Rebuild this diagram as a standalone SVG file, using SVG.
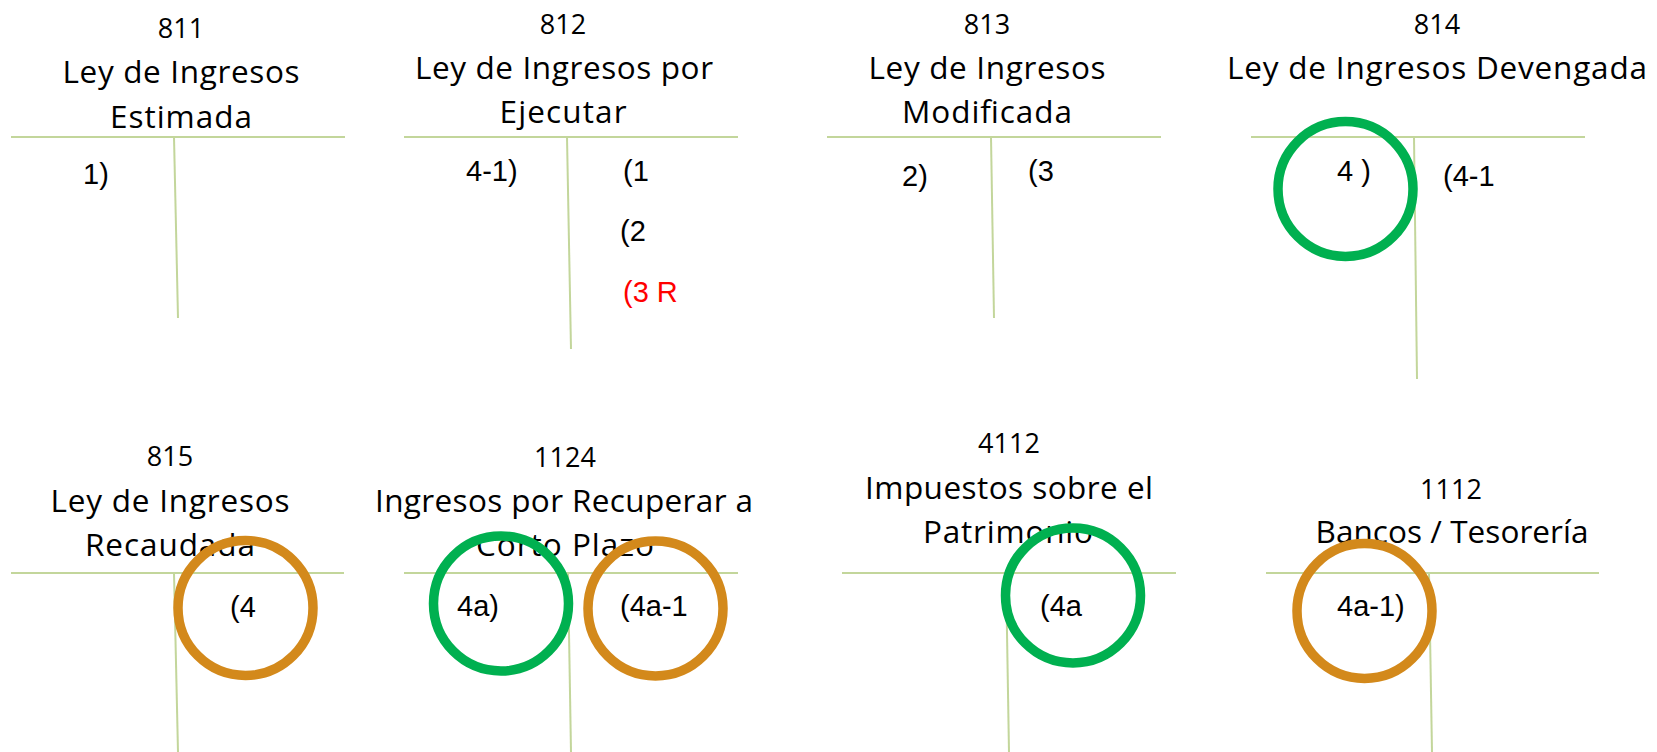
<svg xmlns="http://www.w3.org/2000/svg" width="1657" height="752" viewBox="0 0 1657 752">
<style>
.t{font-family:"Open Sans","Liberation Sans",sans-serif;font-size:31.5px;fill:#000;text-anchor:middle}
.n{font-family:"Open Sans","Liberation Sans",sans-serif;font-size:27px;fill:#000;text-anchor:middle}
.e{font-family:"Liberation Sans",Arial,sans-serif;font-size:29px;fill:#000}
.r{fill:#FF0000}
.ln{stroke:#C3D69B;stroke-width:2;fill:none}
.cg{stroke:#00B050;stroke-width:9.5;fill:none}
.co{stroke:#D3891B;stroke-width:9.5;fill:none}
</style>
<rect width="1657" height="752" fill="#fff"/>

<g id="acc811">
<text class="n" x="181" y="38">811</text>
<text class="t" x="181" y="83" textLength="237">Ley de Ingresos</text>
<text class="t" x="181" y="128" textLength="142">Estimada</text>
<line class="ln" x1="11" y1="137" x2="345" y2="137"/>
<line class="ln" x1="174" y1="137" x2="178" y2="318"/>
<text class="e" x="83" y="184">1)</text>
</g>

<g id="acc812">
<text class="n" x="563" y="34">812</text>
<text class="t" x="564" y="79" textLength="298">Ley de Ingresos por</text>
<text class="t" x="563" y="123" textLength="127">Ejecutar</text>
<line class="ln" x1="404" y1="137" x2="738" y2="137"/>
<line class="ln" x1="567" y1="137" x2="571" y2="349"/>
<text class="e" x="466" y="181">4-1)</text>
<text class="e" x="623" y="181">(1</text>
<text class="e" x="620" y="241">(2</text>
<text class="e r" x="623" y="302">(3 R</text>
</g>

<g id="acc813">
<text class="n" x="987" y="34">813</text>
<text class="t" x="987" y="79" textLength="237">Ley de Ingresos</text>
<text class="t" x="987" y="123" textLength="170">Modificada</text>
<line class="ln" x1="827" y1="137" x2="1161" y2="137"/>
<line class="ln" x1="991" y1="137" x2="994" y2="318"/>
<text class="e" x="902" y="186">2)</text>
<text class="e" x="1028" y="181">(3</text>
</g>

<g id="acc814">
<text class="n" x="1437" y="34">814</text>
<text class="t" x="1437" y="79" textLength="420">Ley de Ingresos Devengada</text>
<line class="ln" x1="1251" y1="137" x2="1585" y2="137"/>
<line class="ln" x1="1414" y1="137" x2="1417" y2="379"/>
<text class="e" x="1337" y="181">4 )</text>
<text class="e" x="1443" y="186">(4-1</text>
<circle class="cg" cx="1345.5" cy="189" r="67.5"/>
</g>

<g id="acc815">
<text class="n" x="170" y="466">815</text>
<text class="t" x="170" y="512" textLength="239">Ley de Ingresos</text>
<text class="t" x="170" y="556" textLength="170">Recaudada</text>
<line class="ln" x1="11" y1="573" x2="344" y2="573"/>
<line class="ln" x1="174" y1="573" x2="178" y2="752"/>
<text class="e" x="230" y="617">(4</text>
<circle class="co" cx="245.5" cy="608" r="67.5"/>
</g>

<g id="acc1124">
<text class="n" x="565" y="467">1124</text>
<text class="t" x="564" y="512" textLength="378">Ingresos por Recuperar a</text>
<text class="t" x="565" y="556" textLength="178">Corto Plazo</text>
<line class="ln" x1="404" y1="573" x2="738" y2="573"/>
<line class="ln" x1="568" y1="573" x2="571" y2="752"/>
<text class="e" x="457" y="616">4a)</text>
<text class="e" x="620" y="616">(4a-1</text>
<circle class="cg" cx="501" cy="603.5" r="67.5"/>
<circle class="co" cx="655.5" cy="608.5" r="67.5"/>
</g>

<g id="acc4112">
<text class="n" x="1009" y="453">4112</text>
<text class="t" x="1009" y="499" textLength="288">Impuestos sobre el</text>
<text class="t" x="1008" y="543" textLength="170">Patrimonio</text>
<line class="ln" x1="842" y1="573" x2="1176" y2="573"/>
<line class="ln" x1="1006" y1="573" x2="1009" y2="752"/>
<text class="e" x="1040" y="616">(4a</text>
<circle class="cg" cx="1073" cy="595.5" r="67.5"/>
</g>

<g id="acc1112">
<text class="n" x="1451" y="499">1112</text>
<text class="t" x="1452" y="543" textLength="273">Bancos / Tesorería</text>
<line class="ln" x1="1266" y1="573" x2="1599" y2="573"/>
<line class="ln" x1="1429" y1="573" x2="1432" y2="752"/>
<text class="e" x="1337" y="616">4a-1)</text>
<circle class="co" cx="1364.5" cy="611" r="67.5"/>
</g>
</svg>
